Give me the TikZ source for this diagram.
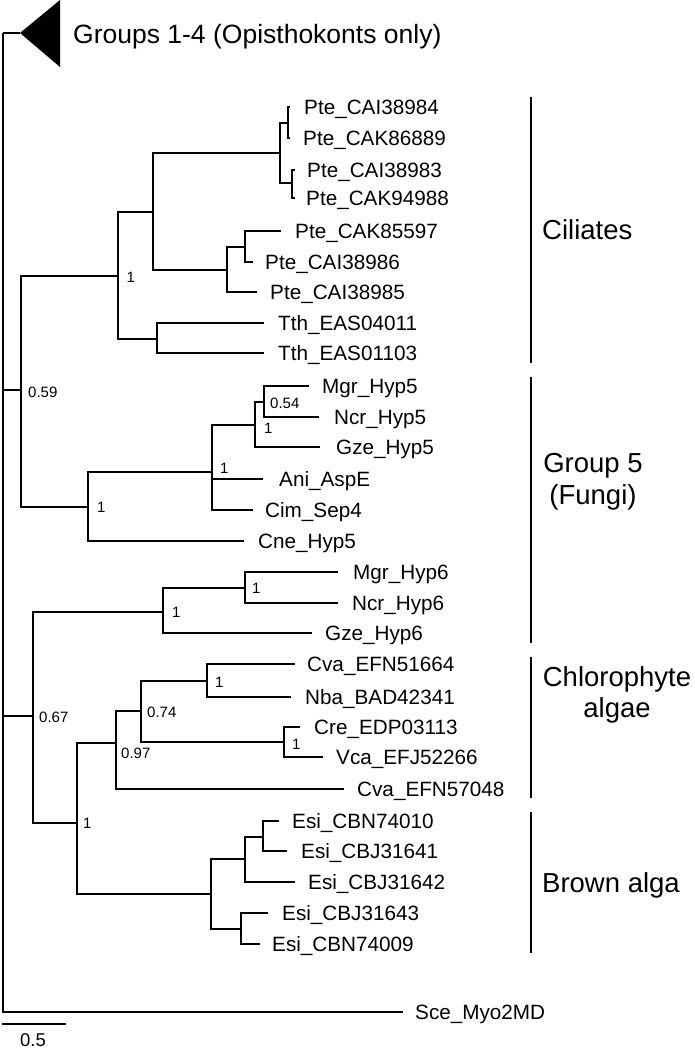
\documentclass[tikz,border=0pt]{standalone}
\usepackage{fontspec}
\setmainfont{Liberation Sans}
\begin{document}
\begin{tikzpicture}[x=1pt,y=-1pt,
  br/.style={line width=1.8pt, line join=miter},
  bar/.style={line width=2pt},
  leaf/.style={anchor=base west, inner sep=0pt, font=\fontsize{20.7}{24}\selectfont, yshift=-7.4pt},
  bs/.style={anchor=base west, inner sep=0pt, font=\fontsize{15}{18}\selectfont, yshift=-5.4pt},
  grp/.style={anchor=base, inner sep=0pt, font=\fontsize{27.5}{33}\selectfont},
  grpw/.style={anchor=base west, inner sep=0pt, font=\fontsize{27.5}{33}\selectfont}]
\useasboundingbox (0,0) rectangle (695,1050);

% ---------- coordinates ----------
\coordinate (r) at (3,33);
\coordinate (tri) at (20,33);
\coordinate (sce) at (403,1012);
% ciliates
\coordinate (nA) at (288,123); \coordinate (tA1) at (290,107); \coordinate (tA2) at (290,138);
\coordinate (nB) at (292,183); \coordinate (tB1) at (295,170); \coordinate (tB2) at (295,198);
\coordinate (nAB) at (280,153);
\coordinate (nC) at (245,247); \coordinate (tC1) at (281,231); \coordinate (tC2) at (253,262);
\coordinate (nCD) at (227,270); \coordinate (tCD) at (257,292);
\coordinate (nP) at (153,212);
\coordinate (nT) at (157,339); \coordinate (tT1) at (264,323); \coordinate (tT2) at (264,353);
\coordinate (nCil) at (118,276);
\coordinate (n059) at (21,390);
% fungi
\coordinate (nFun) at (88,507); \coordinate (tCne) at (244,541);
\coordinate (nF1b) at (212,472); \coordinate (tAni) at (263,479); \coordinate (tCim) at (253,510);
\coordinate (nF1a) at (255,425); \coordinate (tGze5) at (320,447);
\coordinate (nF054) at (264,402); \coordinate (tMgr5) at (309,386); \coordinate (tNcr5) at (319,417);
% lower clade
\coordinate (n067) at (33,716);
\coordinate (nH6) at (163,612); \coordinate (tGze6) at (312,633);
\coordinate (nH6a) at (245,588); \coordinate (tMgr6) at (338,572); \coordinate (tNcr6) at (338,603);
\coordinate (nN1b) at (77,823);
\coordinate (n097) at (116,743); \coordinate (tCva2) at (344,789);
\coordinate (n074) at (141,711);
\coordinate (nChl1) at (207,681); \coordinate (tCva1) at (295,664); \coordinate (tNba) at (291,697);
\coordinate (nChl2) at (284,742); \coordinate (tCre) at (300,727); \coordinate (tVca) at (323,757);
\coordinate (nE4) at (211,894);
\coordinate (nE2) at (245,859); \coordinate (tE3) at (295,882);
\coordinate (nE1) at (263,837); \coordinate (tE1) at (279,821); \coordinate (tE2) at (287,851);
\coordinate (nE3) at (241,929); \coordinate (tE4) at (268,913); \coordinate (tE5) at (260,944);

% ---------- collapsed triangle ----------
\fill (tri) -- (60,0) -- (60,67) -- cycle;
\node[anchor=base west, inner sep=0pt, font=\fontsize{26.5}{32}\selectfont] (g14) at (73,43) {Groups 1-4 (Opisthokonts only)};

% ---------- branches ----------
\draw[br] (r) |- (tri);
\draw[br] (r) |- (n059);
\draw[br] (r) |- (n067);
\draw[br] (r) |- (sce);

\draw[br] (n059) |- (nCil);
\draw[br] (n059) |- (nFun);
\draw[br] (nCil) |- (nP);
\draw[br] (nCil) |- (nT);
\draw[br] (nP) |- (nAB);
\draw[br] (nP) |- (nCD);
\draw[br] (nAB) |- (nA);
\draw[br] (nAB) |- (nB);
\draw[br] (nA) |- (tA1);
\draw[br] (nA) |- (tA2);
\draw[br] (nB) |- (tB1);
\draw[br] (nB) |- (tB2);
\draw[br] (nCD) |- (nC);
\draw[br] (nCD) |- (tCD);
\draw[br] (nC) |- (tC1);
\draw[br] (nC) |- (tC2);
\draw[br] (nT) |- (tT1);
\draw[br] (nT) |- (tT2);

\draw[br] (nFun) |- (nF1b);
\draw[br] (nFun) |- (tCne);
\draw[br] (nF1b) |- (nF1a);
\draw[br] (nF1b) |- (tAni);
\draw[br] (nF1b) |- (tCim);
\draw[br] (nF1a) |- (nF054);
\draw[br] (nF1a) |- (tGze5);
\draw[br] (nF054) |- (tMgr5);
\draw[br] (nF054) |- (tNcr5);

\draw[br] (n067) |- (nH6);
\draw[br] (n067) |- (nN1b);
\draw[br] (nH6) |- (nH6a);
\draw[br] (nH6) |- (tGze6);
\draw[br] (nH6a) |- (tMgr6);
\draw[br] (nH6a) |- (tNcr6);
\draw[br] (nN1b) |- (n097);
\draw[br] (nN1b) |- (nE4);
\draw[br] (n097) |- (n074);
\draw[br] (n097) |- (tCva2);
\draw[br] (n074) |- (nChl1);
\draw[br] (n074) |- (nChl2);
\draw[br] (nChl1) |- (tCva1);
\draw[br] (nChl1) |- (tNba);
\draw[br] (nChl2) |- (tCre);
\draw[br] (nChl2) |- (tVca);
\draw[br] (nE4) |- (nE2);
\draw[br] (nE4) |- (nE3);
\draw[br] (nE2) |- (nE1);
\draw[br] (nE2) |- (tE3);
\draw[br] (nE1) |- (tE1);
\draw[br] (nE1) |- (tE2);
\draw[br] (nE3) |- (tE4);
\draw[br] (nE3) |- (tE5);

% ---------- leaf labels ----------
\node[leaf] (lA1) at (304,107) {Pte\_CAI38984};
\node[leaf] (lA2) at (303,138) {Pte\_CAK86889};
\node[leaf] (lB1) at (307,170) {Pte\_CAI38983};
\node[leaf] (lB2) at (306,198) {Pte\_CAK94988};
\node[leaf] (lC1) at (295,231) {Pte\_CAK85597};
\node[leaf] (lC2) at (265,262) {Pte\_CAI38986};
\node[leaf] (lCD) at (270,292) {Pte\_CAI38985};
\node[leaf] (lT1) at (278,323) {Tth\_EAS04011};
\node[leaf] (lT2) at (278,353) {Tth\_EAS01103};
\node[leaf] (lMgr5) at (322,386) {Mgr\_Hyp5};
\node[leaf] (lNcr5) at (334,417) {Ncr\_Hyp5};
\node[leaf] (lGze5) at (336,447) {Gze\_Hyp5};
\node[leaf] (lAni) at (279,479) {Ani\_AspE};
\node[leaf] (lCim) at (265,510) {Cim\_Sep4};
\node[leaf] (lCne) at (258,541) {Cne\_Hyp5};
\node[leaf] (lMgr6) at (353,572) {Mgr\_Hyp6};
\node[leaf] (lNcr6) at (352,603) {Ncr\_Hyp6};
\node[leaf] (lGze6) at (325,633) {Gze\_Hyp6};
\node[leaf] (lCva1) at (307,664) {Cva\_EFN51664};
\node[leaf] (lNba) at (305,697) {Nba\_BAD42341};
\node[leaf] (lCre) at (314,727) {Cre\_EDP03113};
\node[leaf] (lVca) at (336,757) {Vca\_EFJ52266};
\node[leaf] (lCva2) at (357,789) {Cva\_EFN57048};
\node[leaf] (lE1) at (292,821) {Esi\_CBN74010};
\node[leaf] (lE2) at (301,851) {Esi\_CBJ31641};
\node[leaf] (lE3) at (308,882) {Esi\_CBJ31642};
\node[leaf] (lE4) at (282,913) {Esi\_CBJ31643};
\node[leaf] (lE5) at (272,944) {Esi\_CBN74009};
\node[leaf] (lSce) at (415,1012) {Sce\_Myo2MD};

% ---------- support values ----------
\node[bs] (bCil) at (126.5,277) {1};
\node[bs] (b059) at (28,392) {0.59};
\node[bs] (b054) at (270,403) {0.54};
\node[bs] (bF1a) at (264,428) {1};
\node[bs] (bF1b) at (220,468) {1};
\node[bs] (bFun) at (97,507) {1};
\node[bs] (bH6a) at (252,588) {1};
\node[bs] (bH6) at (172,612) {1};
\node[bs] (bChl1) at (215,682) {1};
\node[bs] (b074) at (147,712) {0.74};
\node[bs] (bChl2) at (292,744) {1};
\node[bs] (b097) at (121,753) {0.97};
\node[bs] (bN1b) at (83,823) {1};
\node[bs] (b067) at (39,717) {0.67};

% ---------- group bars and labels ----------
\coordinate (c1t) at (531,97);  \coordinate (c1b) at (531,363);
\coordinate (c2t) at (531,377); \coordinate (c2b) at (531,643);
\coordinate (c3t) at (531,657); \coordinate (c3b) at (531,798);
\coordinate (c4t) at (531,812); \coordinate (c4b) at (531,953);
\draw[bar] (c1t) -- (c1b);
\draw[bar] (c2t) -- (c2b);
\draw[bar] (c3t) -- (c3b);
\draw[bar] (c4t) -- (c4b);
\node[grpw] (gCil) at (542,239) {Ciliates};
\node[grp] (gG5) at (593,472) {Group 5};
\node[grp] (gFun) at (593,504) {(Fungi)};
\node[grp] (gChl) at (617,686) {Chlorophyte};
\node[grp] (gAlg) at (617,717) {algae};
\node[grpw] (gBro) at (542,892) {Brown alga};

% ---------- scale bar ----------
\coordinate (s0) at (2,1024); \coordinate (s1) at (66,1024);
\draw[line width=1.8pt] (s0) -- (s1);
\node[anchor=base, inner sep=0pt, font=\fontsize{18.5}{22}\selectfont] (sl) at (33,1046) {0.5};
\end{tikzpicture}
\end{document}
